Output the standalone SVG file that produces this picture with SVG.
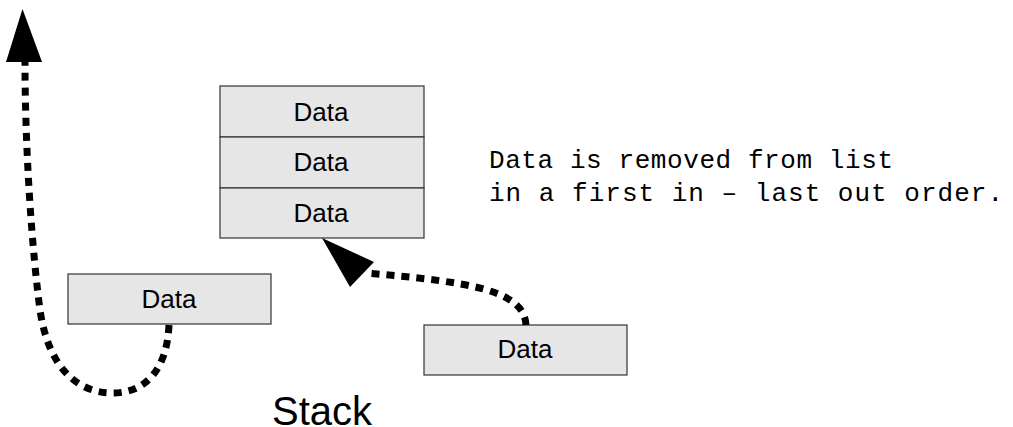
<svg xmlns="http://www.w3.org/2000/svg" width="1013" height="427" viewBox="0 0 1013 427">
  <style>
    .cell { fill: #e6e6e6; stroke: #333333; stroke-width: 1.2; }
    .label { font-family: "Liberation Sans", Arial, sans-serif; font-size: 26px; fill: #000000; text-anchor: middle; }
    .note { font-family: "Liberation Mono", "Courier New", monospace; font-size: 26px; fill: #000000; }
    .title { font-family: "Liberation Sans", Arial, sans-serif; font-size: 40px; fill: #000000; }
    .flow { fill: none; stroke: #000000; stroke-width: 7; stroke-dasharray: 8 7; }
    .head { fill: #000000; stroke: none; }
  </style>
  <rect width="1013" height="427" fill="#ffffff"/>

  <!-- stack of three items -->
  <g id="stack-top">
    <rect class="cell" x="220" y="86" width="204" height="51"/>
    <text class="label" x="321" y="121">Data</text>
  </g>
  <g id="stack-middle">
    <rect class="cell" x="220" y="137" width="204" height="51"/>
    <text class="label" x="321" y="171">Data</text>
  </g>
  <g id="stack-bottom">
    <rect class="cell" x="220" y="188" width="204" height="50"/>
    <text class="label" x="321" y="222">Data</text>
  </g>

  <!-- item being popped -->
  <g id="popped-item">
    <rect class="cell" x="68" y="274" width="203" height="50"/>
    <text class="label" x="169" y="308">Data</text>
  </g>

  <!-- item being pushed -->
  <g id="pushed-item">
    <rect class="cell" x="424" y="325" width="203" height="50"/>
    <text class="label" x="525" y="358">Data</text>
  </g>

  <!-- description -->
  <g id="note">
    <text class="note" x="489" y="168" textLength="404" lengthAdjust="spacing">Data is removed from list</text>
    <text class="note" x="489" y="201" textLength="514" lengthAdjust="spacing">in a first in – last out order.</text>
  </g>

  <g id="caption">
    <text class="title" x="272" y="425">Stack</text>
  </g>

  <!-- dashed flow arrows -->
  <g id="connectors">
    <path class="flow" d="M169,325 C167,370 145,393 113,393 C75,393 48,365 40,310 C32,250 25,150 25,62"/>
    <polygon class="head" points="22.5,9 6,62 42,62"/>
    <path class="flow" d="M526,325 C524,290 470,282 366,273"/>
    <polygon class="head" points="322,238 350,287 374,262"/>
  </g>
</svg>
